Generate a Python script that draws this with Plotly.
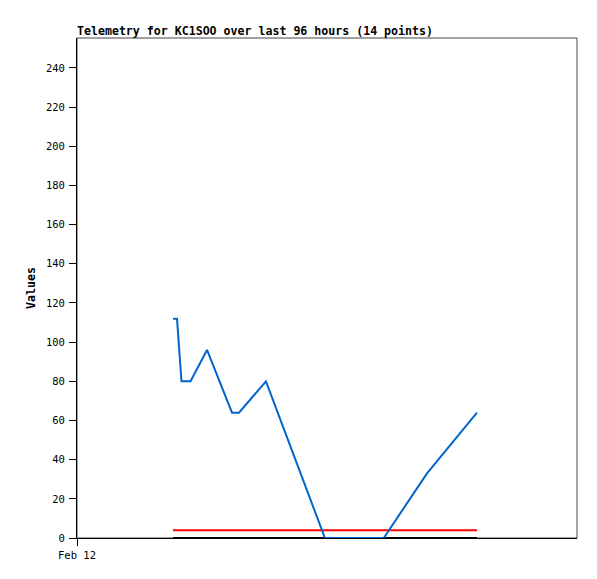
import plotly.graph_objects as go

# Data
times = ["2024-02-12 18:26", "2024-02-12 19:12", "2024-02-12 20:04", "2024-02-12 21:48",
         "2024-02-13 00:58", "2024-02-13 05:46", "2024-02-13 07:06", "2024-02-13 12:17",
         "2024-02-13 23:36", "2024-02-14 10:54", "2024-02-14 19:12", "2024-02-15 04:48"]
values = [112, 112, 80, 80, 96, 64, 64, 80, 0, 0, 33, 64]

ref_times = ["2024-02-12 18:26", "2024-02-15 04:48"]
red_level = [4, 4]
black_level = [0, 0]

x_range = ["2024-02-12 00:00", "2024-02-16 00:00"]
y_range = [0, 255.3]
y_ticks = list(range(0, 241, 20))
x_tickvals = ["2024-02-12 00:00"]
x_ticktext = ["Feb 12"]

title_text = "Telemetry for KC1SOO over last 96 hours (14 points)"
font_family = "DejaVu Sans Mono, Liberation Mono, monospace"

# the page body adds an 8px offset; the figure is sized to compensate
W, H = 589, 571

fig = go.Figure()
fig.add_trace(go.Scatter(x=ref_times, y=black_level, mode="lines",
                         line=dict(color="#000000", width=2), showlegend=False, cliponaxis=False))
fig.add_trace(go.Scatter(x=ref_times, y=red_level, mode="lines",
                         line=dict(color="#ff0000", width=2), showlegend=False))
fig.add_trace(go.Scatter(x=times, y=values, mode="lines",
                         line=dict(color="#0066cc", width=2), showlegend=False, cliponaxis=False))

# dark grey frame (top/right visible); left/bottom axis lines drawn black over it
fig.add_shape(type="rect", xref="paper", yref="paper", x0=0, x1=1, y0=0, y1=1,
              line=dict(color="#444444", width=1), layer="below")

fig.update_layout(
    width=W, height=H,
    margin=dict(l=69, r=20, t=30, b=41),
    paper_bgcolor="white", plot_bgcolor="white",
    font=dict(family=font_family, size=10.5, color="black"),
    title=dict(text="<b>" + title_text + "</b>", x=69 / W, xanchor="left",
               y=1 - 23 / H, yanchor="middle",
               font=dict(family=font_family, size=11.6, color="black")),
)
fig.update_xaxes(type="date", range=x_range, tickvals=x_tickvals, ticktext=x_ticktext,
                 showgrid=False, zeroline=False, showline=True, linecolor="black", linewidth=1,
                 ticks="outside", ticklen=7, tickcolor="black")
fig.update_yaxes(range=y_range, tickvals=y_ticks, showgrid=False, zeroline=False,
                 showline=True, linecolor="black", linewidth=1,
                 ticks="outside", ticklen=7, tickcolor="black", ticklabelstandoff=2,
                 title=dict(text="<b>Values</b>", font=dict(family=font_family, size=11.6),
                            standoff=7))

fig.write_html("out.html")
